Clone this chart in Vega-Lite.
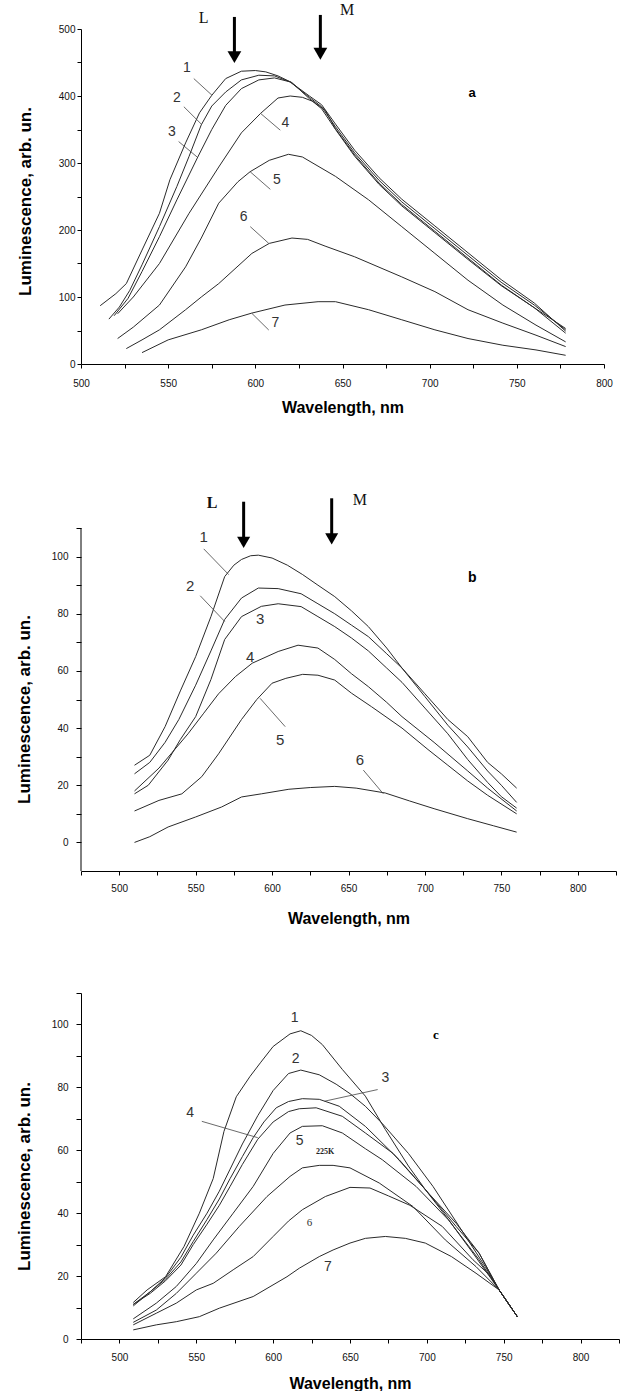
{
  "$schema": "https://vega.github.io/schema/vega-lite/v6.json",
  "padding": {"left": 15, "top": 1, "right": 0, "bottom": 0},
  "bounds": "flush",
  "spacing": 122,
  "config": {
    "view": {"stroke": null},
    "axis": {"domainColor": "#000", "tickColor": "#000", "labelColor": "#111", "titleColor": "#000", "labelFont": "Liberation Sans", "titleFont": "Liberation Sans", "grid": false, "labelFontSize": 10, "titleFontSize": 16, "titleFontWeight": "bold", "labelOverlap": false, "labelFlush": false, "labelBound": false}
  },
  "datasets": {
    "a_curves": [
      {"c":"1","w":511,"v":87},{"c":"1","w":520,"v":105},{"c":"1","w":526,"v":120},{"c":"1","w":535,"v":170},{"c":"1","w":545,"v":225},{"c":"1","w":551,"v":275},{"c":"1","w":560,"v":330},{"c":"1","w":568,"v":375},{"c":"1","w":575,"v":401},{"c":"1","w":583,"v":426},{"c":"1","w":592,"v":437},{"c":"1","w":600,"v":438},{"c":"1","w":606,"v":436},{"c":"1","w":613,"v":430},{"c":"1","w":621,"v":420},{"c":"1","w":631,"v":396},{"c":"1","w":638,"v":381},{"c":"1","w":646,"v":350},{"c":"1","w":657,"v":310},{"c":"1","w":671,"v":268},{"c":"1","w":684,"v":236},{"c":"1","w":703,"v":196},{"c":"1","w":722,"v":156},{"c":"1","w":741,"v":117},{"c":"1","w":760,"v":84},{"c":"1","w":778,"v":53},
      {"c":"2","w":516,"v":67},{"c":"2","w":522,"v":85},{"c":"2","w":528,"v":110},{"c":"2","w":535,"v":148},{"c":"2","w":545,"v":205},{"c":"2","w":555,"v":265},{"c":"2","w":562,"v":310},{"c":"2","w":569,"v":357},{"c":"2","w":575,"v":385},{"c":"2","w":583,"v":406},{"c":"2","w":592,"v":424},{"c":"2","w":602,"v":431},{"c":"2","w":611,"v":430},{"c":"2","w":620,"v":421},{"c":"2","w":631,"v":398},{"c":"2","w":638,"v":384},{"c":"2","w":646,"v":354},{"c":"2","w":657,"v":315},{"c":"2","w":671,"v":274},{"c":"2","w":684,"v":242},{"c":"2","w":703,"v":202},{"c":"2","w":722,"v":162},{"c":"2","w":741,"v":122},{"c":"2","w":760,"v":88},{"c":"2","w":778,"v":51},
      {"c":"3","w":519,"v":72},{"c":"3","w":527,"v":98},{"c":"3","w":535,"v":138},{"c":"3","w":545,"v":190},{"c":"3","w":555,"v":245},{"c":"3","w":567,"v":309},{"c":"3","w":575,"v":350},{"c":"3","w":583,"v":386},{"c":"3","w":592,"v":411},{"c":"3","w":602,"v":424},{"c":"3","w":611,"v":427},{"c":"3","w":620,"v":421},{"c":"3","w":631,"v":400},{"c":"3","w":638,"v":387},{"c":"3","w":646,"v":358},{"c":"3","w":657,"v":319},{"c":"3","w":671,"v":278},{"c":"3","w":684,"v":246},{"c":"3","w":703,"v":206},{"c":"3","w":722,"v":166},{"c":"3","w":741,"v":126},{"c":"3","w":760,"v":91},{"c":"3","w":778,"v":49},
      {"c":"4","w":521,"v":75},{"c":"4","w":530,"v":100},{"c":"4","w":545,"v":150},{"c":"4","w":562,"v":225},{"c":"4","w":579,"v":294},{"c":"4","w":592,"v":345},{"c":"4","w":603,"v":374},{"c":"4","w":613,"v":397},{"c":"4","w":620,"v":400},{"c":"4","w":627,"v":398},{"c":"4","w":633,"v":392},{"c":"4","w":640,"v":379},{"c":"4","w":646,"v":351},{"c":"4","w":657,"v":312},{"c":"4","w":671,"v":270},{"c":"4","w":684,"v":238},{"c":"4","w":703,"v":198},{"c":"4","w":722,"v":158},{"c":"4","w":741,"v":118},{"c":"4","w":760,"v":84},{"c":"4","w":778,"v":46},
      {"c":"5","w":521,"v":38},{"c":"5","w":530,"v":55},{"c":"5","w":545,"v":88},{"c":"5","w":560,"v":145},{"c":"5","w":569,"v":188},{"c":"5","w":579,"v":240},{"c":"5","w":590,"v":272},{"c":"5","w":597,"v":287},{"c":"5","w":608,"v":304},{"c":"5","w":619,"v":313},{"c":"5","w":627,"v":309},{"c":"5","w":646,"v":280},{"c":"5","w":665,"v":245},{"c":"5","w":684,"v":205},{"c":"5","w":703,"v":165},{"c":"5","w":722,"v":125},{"c":"5","w":742,"v":88},{"c":"5","w":761,"v":58},{"c":"5","w":778,"v":33},
      {"c":"6","w":526,"v":23},{"c":"6","w":535,"v":36},{"c":"6","w":545,"v":51},{"c":"6","w":560,"v":81},{"c":"6","w":569,"v":100},{"c":"6","w":579,"v":120},{"c":"6","w":598,"v":165},{"c":"6","w":608,"v":180},{"c":"6","w":621,"v":188},{"c":"6","w":630,"v":186},{"c":"6","w":640,"v":176},{"c":"6","w":657,"v":160},{"c":"6","w":684,"v":130},{"c":"6","w":703,"v":108},{"c":"6","w":722,"v":81},{"c":"6","w":742,"v":61},{"c":"6","w":761,"v":43},{"c":"6","w":778,"v":26},
      {"c":"7","w":535,"v":17},{"c":"7","w":550,"v":36},{"c":"7","w":569,"v":51},{"c":"7","w":585,"v":66},{"c":"7","w":598,"v":76},{"c":"7","w":617,"v":88},{"c":"7","w":636,"v":93},{"c":"7","w":646,"v":93},{"c":"7","w":665,"v":81},{"c":"7","w":684,"v":66},{"c":"7","w":703,"v":51},{"c":"7","w":722,"v":38},{"c":"7","w":742,"v":28},{"c":"7","w":761,"v":21},{"c":"7","w":778,"v":13}
    ],
    "a_leaders": [
      {"w":564.7,"v":426,"w2":575.2,"v2":401},{"w":559,"v":384,"w2":569.4,"v2":357},{"w":556,"v":332,"w2":566.6,"v2":309},{"w":614.3,"v":349,"w2":603,"v2":374},{"w":608.6,"v":260.7,"w2":597,"v2":287},{"w":597.1,"v":205,"w2":607.7,"v2":180},{"w":607.7,"v":50.7,"w2":598,"v2":75.6}
    ],
    "a_labels": [
      {"w":560.8,"v":442,"t":"1"},{"w":555,"v":396.5,"t":"2"},{"w":552.2,"v":346.7,"t":"3"},{"w":617.2,"v":359,"t":"4"},{"w":612.4,"v":274.6,"t":"5"},{"w":593.3,"v":220,"t":"6"},{"w":611.5,"v":60.7,"t":"7"}
    ],
    "a_arrows": [{"w":588,"v":518,"w2":588,"v2":462},{"w":637.3,"v":521,"w2":637.3,"v2":467}],
    "a_heads": [{"w":588,"v":458},{"w":637.3,"v":463}],
    "a_lm": [{"w":570.4,"v":516,"t":"L"},{"w":652.6,"v":529,"t":"M"}],
    "a_tag": [{"w":724.3,"v":404,"t":"a"}],
    "b_curves": [
      {"c":"1","w":510,"v":27},{"c":"1","w":520,"v":30.5},{"c":"1","w":530,"v":40.5},{"c":"1","w":540,"v":53},{"c":"1","w":550,"v":65},{"c":"1","w":560,"v":79},{"c":"1","w":569,"v":93},{"c":"1","w":575,"v":97},{"c":"1","w":580,"v":99},{"c":"1","w":586,"v":100.3},{"c":"1","w":591,"v":100.5},{"c":"1","w":600,"v":99.5},{"c":"1","w":610,"v":97},{"c":"1","w":620,"v":93.7},{"c":"1","w":630,"v":90},{"c":"1","w":641,"v":86},{"c":"1","w":652,"v":81},{"c":"1","w":663,"v":75.5},{"c":"1","w":675,"v":68},{"c":"1","w":685,"v":61},{"c":"1","w":700,"v":52},{"c":"1","w":715,"v":43},{"c":"1","w":728,"v":37},{"c":"1","w":741,"v":28},{"c":"1","w":750,"v":24},{"c":"1","w":760,"v":19},
      {"c":"2","w":510,"v":24},{"c":"2","w":520,"v":28},{"c":"2","w":530,"v":35},{"c":"2","w":539,"v":43},{"c":"2","w":550,"v":55},{"c":"2","w":560,"v":67},{"c":"2","w":569,"v":78},{"c":"2","w":580,"v":85.5},{"c":"2","w":591,"v":89},{"c":"2","w":604,"v":88.8},{"c":"2","w":619,"v":87},{"c":"2","w":630,"v":83.5},{"c":"2","w":641,"v":80},{"c":"2","w":652,"v":76},{"c":"2","w":663,"v":72},{"c":"2","w":675,"v":66},{"c":"2","w":685,"v":61},{"c":"2","w":700,"v":51},{"c":"2","w":715,"v":41},{"c":"2","w":728,"v":33.4},{"c":"2","w":741,"v":25},{"c":"2","w":750,"v":20},{"c":"2","w":760,"v":14},
      {"c":"3","w":510,"v":17},{"c":"3","w":519,"v":20},{"c":"3","w":532,"v":28.8},{"c":"3","w":540,"v":36},{"c":"3","w":550,"v":44},{"c":"3","w":560,"v":57},{"c":"3","w":569,"v":71},{"c":"3","w":580,"v":79},{"c":"3","w":593,"v":82.6},{"c":"3","w":604,"v":83.5},{"c":"3","w":619,"v":82.5},{"c":"3","w":630,"v":79},{"c":"3","w":641,"v":75.5},{"c":"3","w":652,"v":71.5},{"c":"3","w":663,"v":67},{"c":"3","w":675,"v":61},{"c":"3","w":685,"v":56},{"c":"3","w":700,"v":47},{"c":"3","w":715,"v":38},{"c":"3","w":728,"v":29},{"c":"3","w":741,"v":21},{"c":"3","w":750,"v":16},{"c":"3","w":760,"v":12},
      {"c":"4","w":510,"v":18},{"c":"4","w":526,"v":26},{"c":"4","w":545,"v":38},{"c":"4","w":555,"v":45},{"c":"4","w":565,"v":52},{"c":"4","w":576,"v":58},{"c":"4","w":587,"v":62.7},{"c":"4","w":604,"v":66.8},{"c":"4","w":617,"v":69},{"c":"4","w":630,"v":68},{"c":"4","w":641,"v":64},{"c":"4","w":652,"v":59},{"c":"4","w":663,"v":54.5},{"c":"4","w":675,"v":49},{"c":"4","w":685,"v":44},{"c":"4","w":706,"v":35},{"c":"4","w":728,"v":25},{"c":"4","w":741,"v":19},{"c":"4","w":760,"v":11},
      {"c":"5","w":510,"v":11},{"c":"5","w":526,"v":14.7},{"c":"5","w":541,"v":17},{"c":"5","w":554,"v":23},{"c":"5","w":565,"v":31},{"c":"5","w":580,"v":43},{"c":"5","w":590,"v":50},{"c":"5","w":600,"v":55.7},{"c":"5","w":609,"v":57.4},{"c":"5","w":620,"v":58.8},{"c":"5","w":630,"v":58.5},{"c":"5","w":641,"v":56.8},{"c":"5","w":652,"v":52.2},{"c":"5","w":665,"v":47.5},{"c":"5","w":685,"v":40},{"c":"5","w":702,"v":32.5},{"c":"5","w":715,"v":27},{"c":"5","w":728,"v":21.5},{"c":"5","w":741,"v":16.5},{"c":"5","w":760,"v":10},
      {"c":"6","w":510,"v":0},{"c":"6","w":520,"v":2},{"c":"6","w":532,"v":5.4},{"c":"6","w":550,"v":8.9},{"c":"6","w":567,"v":12.4},{"c":"6","w":580,"v":15.9},{"c":"6","w":593,"v":17},{"c":"6","w":611,"v":18.6},{"c":"6","w":625,"v":19.2},{"c":"6","w":641,"v":19.6},{"c":"6","w":655,"v":19},{"c":"6","w":674,"v":17.3},{"c":"6","w":690,"v":14.5},{"c":"6","w":706,"v":11.8},{"c":"6","w":728,"v":8.3},{"c":"6","w":745,"v":5.8},{"c":"6","w":760,"v":3.6}
    ],
    "b_leaders": [
      {"w":555.3,"v":102.7,"w2":571.6,"v2":93.7},{"w":553,"v":86.3,"w2":569,"v2":77.3},{"w":608.6,"v":40.5,"w2":592.2,"v2":50.4},{"w":659.7,"v":25.3,"w2":672.8,"v2":17}
    ],
    "b_labels": [
      {"w":555.3,"v":107,"t":"1"},{"w":546.5,"v":89.8,"t":"2"},{"w":592.2,"v":78,"t":"3"},{"w":585.7,"v":64.7,"t":"4"},{"w":605.3,"v":35.8,"t":"5"},{"w":657.5,"v":29,"t":"6"}
    ],
    "b_axisline": [{"w":475,"v":-10,"w2":475,"v2":110}],
    "b_arrows": [{"w":581.4,"v":119.2,"w2":581.4,"v2":106},{"w":639,"v":120.4,"w2":639,"v2":107}],
    "b_heads": [{"w":581.4,"v":105},{"w":639,"v":106.2}],
    "b_l": [{"w":560.7,"v":118.8,"t":"L"}],
    "b_m": [{"w":657.5,"v":119.8,"t":"M"}],
    "b_tag": [{"w":730.9,"v":92.5,"t":"b"}],
    "c_curves": [
      {"c":"1","w":509,"v":11.6},{"c":"1","w":518,"v":15.6},{"c":"1","w":530,"v":19.8},{"c":"1","w":542,"v":29.4},{"c":"1","w":552,"v":40},{"c":"1","w":561,"v":51},{"c":"1","w":568,"v":66},{"c":"1","w":576,"v":77},{"c":"1","w":585,"v":83.5},{"c":"1","w":592,"v":88},{"c":"1","w":600,"v":93},{"c":"1","w":611,"v":97},{"c":"1","w":618,"v":98},{"c":"1","w":625,"v":96.5},{"c":"1","w":632,"v":93.6},{"c":"1","w":645,"v":85.7},{"c":"1","w":660,"v":77.2},{"c":"1","w":673,"v":66.6},{"c":"1","w":688,"v":55},{"c":"1","w":699,"v":47.5},{"c":"1","w":714,"v":38},{"c":"1","w":730,"v":27.3},{"c":"1","w":747,"v":15.6},{"c":"1","w":759,"v":7},
      {"c":"2","w":509,"v":10.5},{"c":"2","w":520,"v":15},{"c":"2","w":530,"v":19.5},{"c":"2","w":540,"v":26},{"c":"2","w":548,"v":33},{"c":"2","w":557,"v":40},{"c":"2","w":565,"v":47},{"c":"2","w":572,"v":54},{"c":"2","w":580,"v":62},{"c":"2","w":590,"v":71},{"c":"2","w":600,"v":79},{"c":"2","w":610,"v":84.4},{"c":"2","w":618,"v":85.5},{"c":"2","w":630,"v":84},{"c":"2","w":641,"v":81},{"c":"2","w":650,"v":78},{"c":"2","w":660,"v":74},{"c":"2","w":671,"v":68.5},{"c":"2","w":688,"v":59},{"c":"2","w":704,"v":48.5},{"c":"2","w":721,"v":35.8},{"c":"2","w":738,"v":23},{"c":"2","w":747,"v":15.6},{"c":"2","w":759,"v":7},
      {"c":"3","w":509,"v":11},{"c":"3","w":520,"v":15},{"c":"3","w":530,"v":19},{"c":"3","w":540,"v":24.5},{"c":"3","w":548,"v":31},{"c":"3","w":557,"v":38},{"c":"3","w":565,"v":44.5},{"c":"3","w":572,"v":51},{"c":"3","w":580,"v":58},{"c":"3","w":587,"v":64},{"c":"3","w":594,"v":69},{"c":"3","w":602,"v":73.5},{"c":"3","w":610,"v":75.5},{"c":"3","w":619,"v":76.4},{"c":"3","w":630,"v":76.2},{"c":"3","w":643,"v":74},{"c":"3","w":660,"v":67.6},{"c":"3","w":682,"v":57},{"c":"3","w":701,"v":46.4},{"c":"3","w":719,"v":36.8},{"c":"3","w":734,"v":27.3},{"c":"3","w":747,"v":15.6},{"c":"3","w":759,"v":7},
      {"c":"4","w":509,"v":11},{"c":"4","w":520,"v":14.5},{"c":"4","w":530,"v":18.5},{"c":"4","w":540,"v":23.5},{"c":"4","w":548,"v":30},{"c":"4","w":557,"v":36.5},{"c":"4","w":565,"v":42.5},{"c":"4","w":572,"v":48.5},{"c":"4","w":580,"v":55.5},{"c":"4","w":590,"v":63.5},{"c":"4","w":600,"v":69},{"c":"4","w":610,"v":72.3},{"c":"4","w":617,"v":73.2},{"c":"4","w":628,"v":73.5},{"c":"4","w":645,"v":70.8},{"c":"4","w":660,"v":65.5},{"c":"4","w":678,"v":59},{"c":"4","w":699,"v":47.5},{"c":"4","w":719,"v":35.8},{"c":"4","w":734,"v":27.3},{"c":"4","w":747,"v":15.6},{"c":"4","w":759,"v":7},
      {"c":"5","w":509,"v":6.4},{"c":"5","w":524,"v":11.4},{"c":"5","w":537,"v":16.7},{"c":"5","w":550,"v":24},{"c":"5","w":561,"v":31.5},{"c":"5","w":574,"v":40},{"c":"5","w":587,"v":48.5},{"c":"5","w":600,"v":59},{"c":"5","w":611,"v":65.5},{"c":"5","w":619,"v":67.6},{"c":"5","w":632,"v":67.8},{"c":"5","w":645,"v":65.5},{"c":"5","w":660,"v":60.5},{"c":"5","w":671,"v":57},{"c":"5","w":693,"v":48.5},{"c":"5","w":714,"v":37.9},{"c":"5","w":734,"v":25.2},{"c":"5","w":747,"v":15.6},{"c":"5","w":759,"v":7},
      {"c":"5b","w":509,"v":5.3},{"c":"5b","w":524,"v":9.2},{"c":"5b","w":537,"v":14.5},{"c":"5b","w":550,"v":20.9},{"c":"5b","w":563,"v":27.3},{"c":"5b","w":578,"v":35.8},{"c":"5b","w":596,"v":45.3},{"c":"5b","w":611,"v":51.7},{"c":"5b","w":619,"v":54.4},{"c":"5b","w":630,"v":55.2},{"c":"5b","w":639,"v":55.2},{"c":"5b","w":650,"v":54.4},{"c":"5b","w":669,"v":49.6},{"c":"5b","w":691,"v":42.1},{"c":"5b","w":712,"v":31.5},{"c":"5b","w":732,"v":23},{"c":"5b","w":747,"v":15.6},{"c":"5b","w":759,"v":7},
      {"c":"6","w":509,"v":4.5},{"c":"6","w":524,"v":8.2},{"c":"6","w":537,"v":11.4},{"c":"6","w":550,"v":15.6},{"c":"6","w":561,"v":17.7},{"c":"6","w":574,"v":22},{"c":"6","w":587,"v":26.2},{"c":"6","w":600,"v":32.6},{"c":"6","w":610,"v":37.5},{"c":"6","w":619,"v":41.1},{"c":"6","w":634,"v":45.3},{"c":"6","w":650,"v":48.2},{"c":"6","w":663,"v":48},{"c":"6","w":675,"v":45.5},{"c":"6","w":689,"v":42.5},{"c":"6","w":710,"v":35.8},{"c":"6","w":730,"v":25.2},{"c":"6","w":742,"v":19.8},{"c":"6","w":747,"v":15.6},{"c":"6","w":759,"v":7},
      {"c":"7","w":509,"v":2.9},{"c":"7","w":524,"v":4.5},{"c":"7","w":537,"v":5.5},{"c":"7","w":552,"v":7.1},{"c":"7","w":565,"v":9.8},{"c":"7","w":587,"v":13.5},{"c":"7","w":609,"v":19.8},{"c":"7","w":617,"v":22.5},{"c":"7","w":630,"v":26.2},{"c":"7","w":639,"v":28.3},{"c":"7","w":650,"v":30.5},{"c":"7","w":660,"v":32},{"c":"7","w":673,"v":32.6},{"c":"7","w":686,"v":32},{"c":"7","w":699,"v":30.5},{"c":"7","w":716,"v":26.2},{"c":"7","w":732,"v":20.9},{"c":"7","w":747,"v":15.6},{"c":"7","w":759,"v":7}
    ],
    "c_leaders": [
      {"w":668,"v":79.3,"w2":633.4,"v2":75.6},{"w":553.6,"v":69.2,"w2":590,"v2":64}
    ],
    "c_labels": [
      {"w":614,"v":102,"t":"1"},{"w":614.6,"v":88.9,"t":"2"},{"w":673,"v":83,"t":"3"},{"w":546,"v":72,"t":"4"},{"w":617.2,"v":62.8,"t":"5"},{"w":635.6,"v":23,"t":"7"}
    ],
    "c_small": [{"w":623.7,"v":36.8,"t":"6"}],
    "c_temp": [{"w":633.8,"v":59.5,"t":"225K"}],
    "c_tag": [{"w":705.8,"v":96.5,"t":"c"}]
  },
  "vconcat": [
    {
      "width": 523,
      "height": 335,
      "encoding": {
        "x": {"field": "w", "type": "quantitative", "scale": {"domain": [500, 800], "nice": false, "zero": false},
          "axis": {"values": [500,525,550,575,600,625,650,675,700,725,750,775,800], "labelExpr": "datum.value % 50 === 0 ? datum.label : ''", "tickSize": 4, "labelPadding": 10, "title": "Wavelength, nm", "titleY": 43, "titleBaseline": "middle"}},
        "y": {"field": "v", "type": "quantitative", "scale": {"domain": [0, 500], "nice": false, "zero": false},
          "axis": {"values": [0,50,100,150,200,250,300,350,400,450,500], "labelExpr": "datum.value % 100 === 0 ? datum.label : ''", "tickSize": 4, "labelPadding": 2, "title": "Luminescence, arb. un.", "titleFontSize": 17, "titleX": -47, "titleY": 172, "titleAlign": "center"}}
      },
      "layer": [
        {"data": {"name": "a_curves"}, "mark": {"type": "line", "color": "#2a2a2a", "strokeWidth": 1}, "encoding": {"detail": {"field": "c"}}},
        {"data": {"name": "a_leaders"}, "mark": {"type": "rule", "color": "#444", "strokeWidth": 0.8}, "encoding": {"x2": {"field": "w2"}, "y2": {"field": "v2"}}},
        {"data": {"name": "a_labels"}, "mark": {"type": "text", "font": "Liberation Sans", "fontSize": 14, "color": "#333", "align": "center", "baseline": "middle"}, "encoding": {"text": {"field": "t"}}},
        {"data": {"name": "a_arrows"}, "mark": {"type": "rule", "color": "#000", "strokeWidth": 3}, "encoding": {"x2": {"field": "w2"}, "y2": {"field": "v2"}}},
        {"data": {"name": "a_heads"}, "mark": {"type": "point", "shape": "triangle-down", "filled": true, "size": 190, "color": "#000", "opacity": 1}},
        {"data": {"name": "a_lm"}, "mark": {"type": "text", "font": "Liberation Serif", "fontSize": 16, "color": "#111", "align": "center", "baseline": "middle"}, "encoding": {"text": {"field": "t"}}},
        {"data": {"name": "a_tag"}, "mark": {"type": "text", "font": "Liberation Sans", "fontSize": 13, "fontWeight": "bold", "color": "#000", "align": "center", "baseline": "middle"}, "encoding": {"text": {"field": "t"}}}
      ]
    },
    {
      "width": 535,
      "height": 385,
      "encoding": {
        "x": {"field": "w", "type": "quantitative", "scale": {"domain": [475, 825], "nice": false, "zero": false},
          "axis": {"values": [475,500,525,550,575,600,625,650,675,700,725,750,775,800,825], "labelExpr": "datum.value % 50 === 0 ? datum.label : ''", "tickSize": 4, "labelPadding": 8, "title": "Wavelength, nm", "titleY": 47, "titleBaseline": "middle"}},
        "y": {"field": "v", "type": "quantitative", "scale": {"domain": [-10, 124.7], "nice": false, "zero": false},
          "axis": {"domain": false, "values": [0,10,20,30,40,50,60,70,80,90,100,110], "labelExpr": "datum.value % 20 === 0 ? datum.label : ''", "tickSize": 5, "labelPadding": 8, "title": "Luminescence, arb. un.", "titleFontSize": 17, "titleX": -48, "titleY": 223, "titleAlign": "center"}}
      },
      "layer": [
        {"data": {"name": "b_curves"}, "mark": {"type": "line", "color": "#2a2a2a", "strokeWidth": 1}, "encoding": {"detail": {"field": "c"}}},
        {"data": {"name": "b_axisline"}, "mark": {"type": "rule", "color": "#000", "strokeWidth": 1}, "encoding": {"x2": {"field": "w2"}, "y2": {"field": "v2"}}},
        {"data": {"name": "b_leaders"}, "mark": {"type": "rule", "color": "#444", "strokeWidth": 0.8}, "encoding": {"x2": {"field": "w2"}, "y2": {"field": "v2"}}},
        {"data": {"name": "b_labels"}, "mark": {"type": "text", "font": "Liberation Sans", "fontSize": 15, "color": "#333", "align": "center", "baseline": "middle"}, "encoding": {"text": {"field": "t"}}},
        {"data": {"name": "b_arrows"}, "mark": {"type": "rule", "color": "#000", "strokeWidth": 3}, "encoding": {"x2": {"field": "w2"}, "y2": {"field": "v2"}}},
        {"data": {"name": "b_heads"}, "mark": {"type": "point", "shape": "triangle-down", "filled": true, "size": 170, "color": "#000", "opacity": 1}},
        {"data": {"name": "b_l"}, "mark": {"type": "text", "font": "Liberation Serif", "fontSize": 16, "fontWeight": "bold", "color": "#111", "align": "center", "baseline": "middle"}, "encoding": {"text": {"field": "t"}}},
        {"data": {"name": "b_m"}, "mark": {"type": "text", "font": "Liberation Serif", "fontSize": 16, "color": "#111", "align": "center", "baseline": "middle"}, "encoding": {"text": {"field": "t"}}},
        {"data": {"name": "b_tag"}, "mark": {"type": "text", "font": "Liberation Sans", "fontSize": 14, "fontWeight": "bold", "color": "#000", "align": "center", "baseline": "middle"}, "encoding": {"text": {"field": "t"}}}
      ]
    },
    {
      "width": 538,
      "height": 346,
      "encoding": {
        "x": {"field": "w", "type": "quantitative", "scale": {"domain": [475, 825], "nice": false, "zero": false},
          "axis": {"values": [475,500,525,550,575,600,625,650,675,700,725,750,775,800,825], "labelExpr": "datum.value % 50 === 0 ? datum.label : ''", "tickSize": 4, "labelPadding": 9, "title": "Wavelength, nm", "titleY": 44, "titleBaseline": "middle"}},
        "y": {"field": "v", "type": "quantitative", "scale": {"domain": [0, 110], "nice": false, "zero": false},
          "axis": {"values": [0,10,20,30,40,50,60,70,80,90,100,110], "labelExpr": "datum.value % 20 === 0 ? datum.label : ''", "tickSize": 5, "labelPadding": 8, "title": "Luminescence, arb. un.", "titleFontSize": 17, "titleX": -48, "titleY": 183, "titleAlign": "center"}}
      },
      "layer": [
        {"data": {"name": "c_curves"}, "mark": {"type": "line", "color": "#2a2a2a", "strokeWidth": 1}, "encoding": {"detail": {"field": "c"}}},
        {"data": {"name": "c_leaders"}, "mark": {"type": "rule", "color": "#444", "strokeWidth": 0.8}, "encoding": {"x2": {"field": "w2"}, "y2": {"field": "v2"}}},
        {"data": {"name": "c_labels"}, "mark": {"type": "text", "font": "Liberation Sans", "fontSize": 14, "color": "#333", "align": "center", "baseline": "middle"}, "encoding": {"text": {"field": "t"}}},
        {"data": {"name": "c_small"}, "mark": {"type": "text", "font": "Liberation Serif", "fontSize": 11, "color": "#333", "align": "center", "baseline": "middle"}, "encoding": {"text": {"field": "t"}}},
        {"data": {"name": "c_temp"}, "mark": {"type": "text", "font": "Liberation Serif", "fontSize": 8, "fontWeight": "bold", "color": "#222", "align": "center", "baseline": "middle"}, "encoding": {"text": {"field": "t"}}},
        {"data": {"name": "c_tag"}, "mark": {"type": "text", "font": "Liberation Serif", "fontSize": 13, "fontWeight": "bold", "color": "#000", "align": "center", "baseline": "middle"}, "encoding": {"text": {"field": "t"}}}
      ]
    }
  ]
}
